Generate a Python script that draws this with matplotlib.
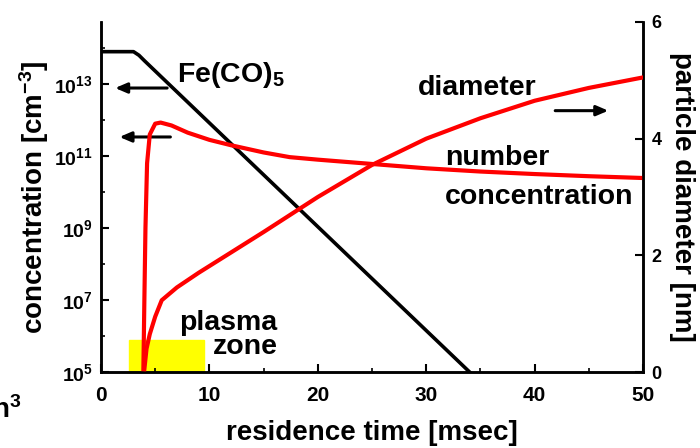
import matplotlib
matplotlib.use("Agg")
import matplotlib.pyplot as plt
import numpy as np
from matplotlib.patches import Rectangle
from matplotlib.ticker import FixedLocator, FuncFormatter, NullFormatter

plt.rcParams["font.family"] = ["Liberation Sans", "DejaVu Sans"]
plt.rcParams["font.weight"] = "bold"
plt.rcParams["axes.labelweight"] = "bold"
plt.rcParams["mathtext.fontset"] = "custom"
plt.rcParams["mathtext.rm"] = "Liberation Sans:bold"
plt.rcParams["mathtext.it"] = "Liberation Sans:bold"
plt.rcParams["mathtext.bf"] = "Liberation Sans:bold"
plt.rcParams["mathtext.default"] = "rm"

# Fe(CO)5 precursor concentration (log10 cm^-3) vs residence time (ms)
fe_t = [0.0, 3.0, 3.5, 4.0, 34.0]
fe_log = [13.9, 13.9, 13.8, 13.65, 5.0]

# particle number concentration (log10 cm^-3)
num_t = [3.9, 4.0, 4.1, 4.25, 4.5, 5.0, 5.5, 6.5, 8.0, 10.0, 12.0, 15.0,
         17.4, 20.0, 25.0, 30.0, 35.0, 40.0, 45.0, 50.0]
num_log = [4.9, 7.0, 9.0, 10.8, 11.6, 11.9, 11.93, 11.85, 11.65, 11.45,
           11.3, 11.1, 10.97, 10.9, 10.78, 10.66, 10.57, 10.5, 10.44, 10.39]

# particle diameter (nm)
dia_t = [4.0, 4.2, 4.5, 5.0, 5.6, 7.0, 9.0, 12.0, 15.0, 20.0, 25.0, 30.0,
         35.0, 40.0, 45.0, 50.0]
dia_nm = [0.05, 0.4, 0.65, 0.95, 1.23, 1.45, 1.7, 2.05, 2.4, 3.0, 3.55,
          4.0, 4.35, 4.65, 4.87, 5.05]

# plasma zone marker (t range, concentration range)
plasma_t = [2.6, 9.5]
plasma_c = [1e5, 8e5]

fig = plt.figure(figsize=(7, 4.48), dpi=100)
ax = fig.add_axes([0.1443, 0.1696, 0.7743, 0.7813])
ax2 = ax.twinx()

ax.add_patch(Rectangle((plasma_t[0], plasma_c[0]), plasma_t[1] - plasma_t[0],
                       plasma_c[1] - plasma_c[0], color="#ffff00", zorder=1))
ax.plot(fe_t, 10.0 ** np.array(fe_log), color="black", lw=2.6, zorder=3)
ax.plot(num_t, 10.0 ** np.array(num_log), color="#ff0000", lw=3, zorder=4)
ax2.plot(dia_t, dia_nm, color="#ff0000", lw=3, zorder=4)

ax.set_yscale("log")
ax.set_xlim(0, 50)
ax.set_ylim(1e5, 5.3e14)
ax2.set_ylim(0, 6)

ax.set_xticks([0, 10, 20, 30, 40, 50])
ax.set_xticks([5, 15, 25, 35, 45], minor=True)
ax.yaxis.set_major_locator(FixedLocator([1e5, 1e7, 1e9, 1e11, 1e13]))
ax.yaxis.set_minor_locator(FixedLocator([1e6, 1e8, 1e10, 1e12, 1e14]))
ax.yaxis.set_major_formatter(
    FuncFormatter(lambda v, p: r"$10^{%d}$" % round(np.log10(v))))
ax.yaxis.set_minor_formatter(NullFormatter())
ax2.set_yticks([0, 2, 4, 6])

for a in (ax, ax2):
    a.tick_params(which="major", direction="in", length=6, width=1.5,
                  labelsize=15)
    a.tick_params(which="minor", direction="in", length=3, width=1.2)
    for s in a.spines.values():
        s.set_linewidth(1.8)
    a.spines["top"].set_visible(False)
ax.tick_params(axis="x", pad=10)
ax.tick_params(axis="y", labelsize=14, pad=6)
ax2.tick_params(axis="y", labelsize=13, pad=6)

ax.set_xlabel("residence time [msec]", fontsize=20, labelpad=11)
ax.set_ylabel(r"concentration [cm$^{-3}$]", fontsize=20, labelpad=2)
ax2.set_ylabel("particle diameter [nm]", fontsize=20, rotation=270,
               labelpad=24)

tk = dict(fontsize=20.5, fontweight="bold", va="center")
ax.text(7.0, 10 ** 13.25, r"Fe(CO)$_5$", ha="left", **tk)
ax.text(29.2, 10 ** 12.89, "diameter", ha="left", **tk)
ax.text(31.7, 10 ** 10.94, "number", ha="left", **tk)
ax.text(31.7, 10 ** 9.86, "concentration", ha="left", **tk)
ax.text(16.3, 10 ** 6.36, "plasma", ha="right", **tk)
ax.text(16.3, 10 ** 5.69, "zone", ha="right", **tk)

arr = dict(arrowstyle="-|>,head_length=0.7,head_width=0.3", color="black",
           lw=2.2, shrinkA=0, shrinkB=0)
ax.annotate("", xy=(1.3, 10 ** 12.89), xytext=(6.1, 10 ** 12.89),
            arrowprops=arr)
ax.annotate("", xy=(1.7, 10 ** 11.53), xytext=(6.4, 10 ** 11.53),
            arrowprops=arr)
ax2.annotate("", xy=(46.8, 4.48), xytext=(41.9, 4.48), arrowprops=arr)

fig.text(0.03, 0.085, r"n$^3$", fontsize=20, fontweight="bold", ha="right",
         va="center")

fig.savefig("out.png", dpi=100)
